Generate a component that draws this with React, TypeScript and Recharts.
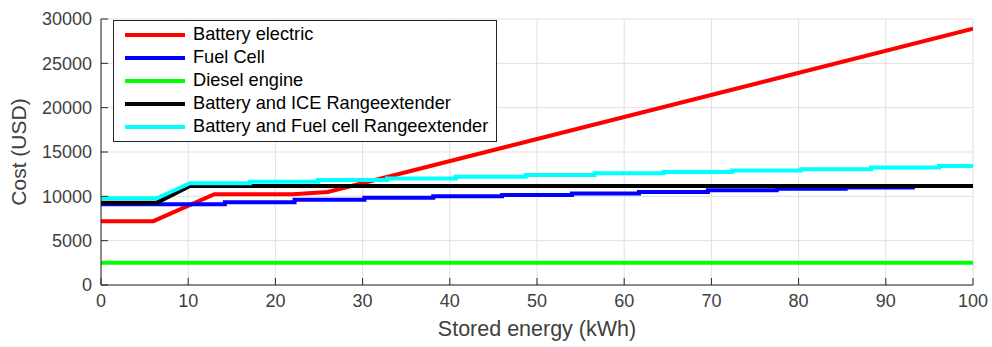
import React from 'react';
import { LineChart, Line, XAxis, YAxis, CartesianGrid, Legend } from 'recharts';

// ---------- data ----------
const xTicks = [0, 10, 20, 30, 40, 50, 60, 70, 80, 90, 100];
const yTicks = [0, 5000, 10000, 15000, 20000, 25000, 30000];

const seriesNames = [
  'Battery electric',
  'Fuel Cell',
  'Diesel engine',
  'Battery and ICE Rangeextender',
  'Battery and Fuel cell Rangeextender',
];
const seriesColors = ['#ff0000', '#0000ff', '#00ff00', '#000000', '#00ffff'];

// Battery electric
const batteryX = [0, 6, 13, 22, 26, 100];
const batteryY = [7200, 7200, 10230, 10230, 10500, 28900];

// Fuel cell (stepwise)
const fuelCellBaseX = [0];
const fuelCellBaseY = [9100];
const fuelCellStepX = [14.2, 22.2, 30.2, 38.1, 46.0, 54.0, 61.7, 69.6, 77.5, 85.4, 93.1];
const fuelCellStepY = [9330, 9620, 9850, 10000, 10150, 10330, 10500, 10680, 10850, 11000, 11170];

// Diesel engine
const dieselX = [0, 100];
const dieselY = [2500, 2500];

// Battery and ICE range extender
const iceX = [0, 6.4, 10.2, 100];
const iceY = [9290, 9290, 11170, 11170];

// Battery and fuel cell range extender
const fcreBaseX = [0, 6.4, 10.2];
const fcreBaseY = [9780, 9780, 11470];
const fcreStepX = [17.1, 24.9, 32.8, 40.7, 48.7, 56.6, 64.5, 72.4, 80.3, 88.3, 96.1];
const fcreStepY = [11650, 11850, 12000, 12200, 12400, 12600, 12750, 12900, 13050, 13250, 13420];

const xEnd = 100;

// ---------- helpers ----------
type Pt = { x: number; y: number };
const toPoints = (xs: number[], ys: number[]): Pt[] => xs.map((x, i) => ({ x, y: ys[i] }));
const withSteps = (base: Pt[], sx: number[], sy: number[], end: number): Pt[] => {
  const pts = [...base];
  let prev = pts[pts.length - 1].y;
  sx.forEach((x, i) => {
    pts.push({ x, y: prev });
    pts.push({ x, y: sy[i] });
    prev = sy[i];
  });
  pts.push({ x: end, y: prev });
  return pts;
};

const batteryData = toPoints(batteryX, batteryY);
const fuelCellData = withSteps(toPoints(fuelCellBaseX, fuelCellBaseY), fuelCellStepX, fuelCellStepY, xEnd);
const dieselData = toPoints(dieselX, dieselY);
const iceData = toPoints(iceX, iceY);
const fcreData = withSteps(toPoints(fcreBaseX, fcreBaseY), fcreStepX, fcreStepY, xEnd);
const allData = [batteryData, fuelCellData, dieselData, iceData, fcreData];

// ---------- styles ----------
const FONT = '"Liberation Sans", Arial, Helvetica, sans-serif';
const AXIS = '#262626';
const LABEL = '#404040';
const TICK_MARGIN = 9;
const TICK_LEN = 7;

const YTick = (props: any) => {
  const { x, y, payload } = props;
  return (
    <g>
      <text x={x} y={y} dy="0.36em" textAnchor="end" fill={LABEL} fontSize={18} fontFamily={FONT}>
        {payload.value}
      </text>
      <line x1={x + TICK_MARGIN} x2={x + TICK_MARGIN + TICK_LEN} y1={y} y2={y} stroke={AXIS} strokeWidth={1} />
    </g>
  );
};

const XTick = (props: any) => {
  const { x, y, payload } = props;
  return (
    <g>
      <text x={x} y={y} dy="0.72em" textAnchor="middle" fill={LABEL} fontSize={18} fontFamily={FONT}>
        {payload.value}
      </text>
      <line x1={x} x2={x} y1={y - TICK_MARGIN} y2={y - TICK_MARGIN - TICK_LEN} stroke={AXIS} strokeWidth={1} />
    </g>
  );
};

const LegendBox = () => {
  const items = seriesNames.map((n, i) => ({ name: n, color: seriesColors[i] }));
  return (
    <div
      style={{
        width: 382,
        height: 120,
        border: `1px solid ${AXIS}`,
        background: '#fff',
        position: 'relative',
        fontFamily: FONT,
        fontSize: 18.2,
        color: '#000',
      }}
    >
      {items.map((it, i) => (
        <div
          key={it.name}
          style={{
            position: 'absolute',
            left: 0,
            top: 2 + i * 23,
            height: 23,
            display: 'flex',
            alignItems: 'center',
            whiteSpace: 'nowrap',
          }}
        >
          <div style={{ marginLeft: 11, width: 60, height: 4, background: it.color }} />
          <span style={{ marginLeft: 8 }}>{it.name}</span>
        </div>
      ))}
    </div>
  );
};

export default function App() {
  return (
    <div style={{ position: 'absolute', left: 0, top: 0, background: '#fff' }}>
      <LineChart width={992} height={347} margin={{ top: 19, right: 19, bottom: 0, left: 0 }}>
        <CartesianGrid stroke="#e0e0e0" strokeWidth={1} />
        <XAxis
          type="number"
          dataKey="x"
          domain={[0, 100]}
          ticks={xTicks}
          allowDataOverflow
          height={62}
          tickSize={0}
          tickMargin={TICK_MARGIN}
          tickLine={false}
          axisLine={{ stroke: AXIS, strokeWidth: 1 }}
          tick={<XTick />}
          label={{
            content: (p: any) => {
              const vb = p.viewBox || { x: 101, y: 285, width: 872, height: 62 };
              return (
                <text
                  x={vb.x + vb.width / 2}
                  y={vb.y + 43}
                  dy="0.36em"
                  textAnchor="middle"
                  fill={LABEL}
                  fontSize={21.5}
                  fontFamily={FONT}
                >
                  Stored energy (kWh)
                </text>
              );
            },
          }}
        />
        <YAxis
          type="number"
          domain={[0, 30000]}
          ticks={yTicks}
          allowDataOverflow
          width={101}
          tickSize={0}
          tickMargin={TICK_MARGIN}
          tickLine={false}
          axisLine={{ stroke: AXIS, strokeWidth: 1 }}
          tick={<YTick />}
          label={{
            content: (p: any) => {
              const vb = p.viewBox || { x: 0, y: 19, width: 101, height: 266 };
              const cx = vb.x + 18;
              const cy = vb.y + vb.height / 2;
              return (
                <text
                  x={cx}
                  y={cy}
                  dy="0.36em"
                  transform={`rotate(-90 ${cx} ${cy})`}
                  textAnchor="middle"
                  fill={LABEL}
                  fontSize={21}
                  fontFamily={FONT}
                >
                  Cost (USD)
                </text>
              );
            },
          }}
        />
        {allData.map((d, i) => (
          <Line
            key={seriesNames[i]}
            data={d}
            dataKey="y"
            name={seriesNames[i]}
            type="linear"
            stroke={seriesColors[i]}
            strokeWidth={4}
            dot={false}
            activeDot={false}
            isAnimationActive={false}
            strokeLinejoin="miter"
          />
        ))}
        <Legend
          layout="vertical"
          align="center"
          verticalAlign="middle"
          content={<LegendBox />}
          wrapperStyle={{ left: 113, top: 20, width: 384, height: 122 }}
        />
      </LineChart>
    </div>
  );
}
